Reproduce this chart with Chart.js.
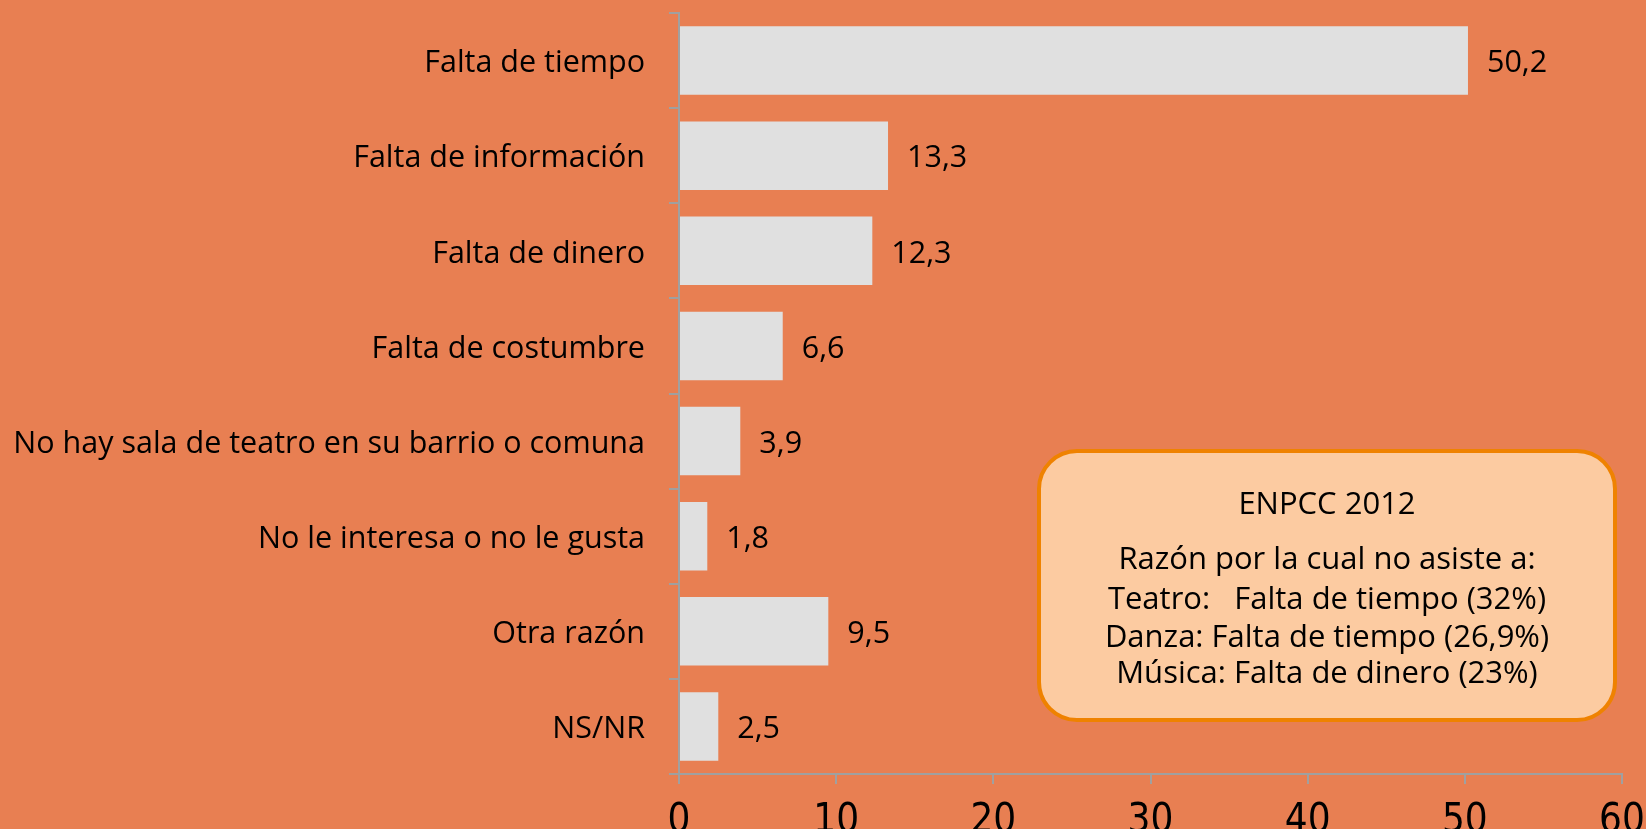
<!DOCTYPE html>
<html>
<head>
<meta charset="utf-8">
<script src="https://cdn.jsdelivr.net/npm/chart.js@4.4.0/dist/chart.umd.min.js"></script>
<style>
  html, body { margin: 0; padding: 0; background: #e87f52; }
  #wrap { position: relative; width: 1646px; height: 829px; overflow: hidden; background: #e87f52; }
  #box {
    position: absolute; left: 1037px; top: 449px; width: 580px; height: 273px;
    box-sizing: border-box; border: 4px solid #ef8200; border-radius: 40px;
    background: #fccba1; font-family: "Open Sans", "Noto Sans", sans-serif; font-size: 31px;
    color: #000; text-align: center;
  }
  #box div { position: absolute; left: 0; right: 0; height: 38px; line-height: 38px; white-space: pre; }
</style>
</head>
<body>
<div id="wrap">
  <canvas id="c" width="1646" height="829"></canvas>
  <div id="box">
    <div style="top:30px">ENPCC 2012</div>
    <div style="top:85px">Razón por la cual no asiste a:</div>
    <div style="top:125px">Teatro:   Falta de tiempo (32%)</div>
    <div style="top:163px">Danza: Falta de tiempo (26,9%)</div>
    <div style="top:199px">Música: Falta de dinero (23%)</div>
  </div>
</div>
<script>
const categories = [
  "Falta de tiempo",
  "Falta de información",
  "Falta de dinero",
  "Falta de costumbre",
  "No hay sala de teatro en su barrio o comuna",
  "No le interesa o no le gusta",
  "Otra razón",
  "NS/NR"
];
const values = [50.2, 13.3, 12.3, 6.6, 3.9, 1.8, 9.5, 2.5];
const xTicks = [0, 10, 20, 30, 40, 50, 60];

const FONT = '"Open Sans", "Noto Sans", sans-serif';

const valueLabels = {
  id: 'valueLabels',
  afterDatasetsDraw(chart) {
    const ctx = chart.ctx;
    const meta = chart.getDatasetMeta(0);
    ctx.save();
    ctx.font = '30.5px ' + FONT;
    ctx.fillStyle = '#000';
    ctx.textAlign = 'left';
    ctx.textBaseline = 'middle';
    meta.data.forEach((bar, i) => {
      ctx.fillText(values[i].toFixed(1).replace('.', ','), bar.x + 19, bar.y + 3);
    });
    ctx.restore();
  }
};

new Chart(document.getElementById('c'), {
  type: 'bar',
  data: {
    labels: categories,
    datasets: [{
      data: values,
      backgroundColor: '#e0e0e0',
      borderWidth: 0,
      categoryPercentage: 0.72,
      barPercentage: 1
    }]
  },
  plugins: [valueLabels],
  options: {
    indexAxis: 'y',
    responsive: false,
    animation: false,
    layout: { padding: { top: 13, right: 24, left: 0, bottom: 0 } },
    plugins: { legend: { display: false }, tooltip: { enabled: false } },
    scales: {
      x: {
        min: 0, max: 60,
        afterBuildTicks(scale) { scale.ticks = xTicks.map(v => ({ value: v })); },
        afterFit(scale) { scale.height = 55; scale.paddingLeft = 0; scale.paddingRight = 0; },
        border: { color: '#a0a0a0', width: 2 },
        grid: { drawOnChartArea: false, drawTicks: true, tickLength: 10, color: '#a0a0a0', lineWidth: 2 },
        ticks: {
          color: '#000', padding: 14,
          font: { family: '"Liberation Sans Narrow", "DejaVu Sans Condensed", sans-serif', size: 40 },
          maxRotation: 0
        }
      },
      y: {
        afterFit(scale) { scale.width = 679; scale.paddingTop = 0; scale.paddingBottom = 0; },
        border: { color: '#a0a0a0', width: 2 },
        grid: { drawOnChartArea: false, drawTicks: true, tickLength: 10, color: '#a0a0a0', lineWidth: 2, offset: true },
        ticks: {
          color: '#000', padding: 24, labelOffset: 3,
          font: { family: FONT, size: 30.5 }
        }
      }
    }
  }
});
</script>
</body>
</html>
